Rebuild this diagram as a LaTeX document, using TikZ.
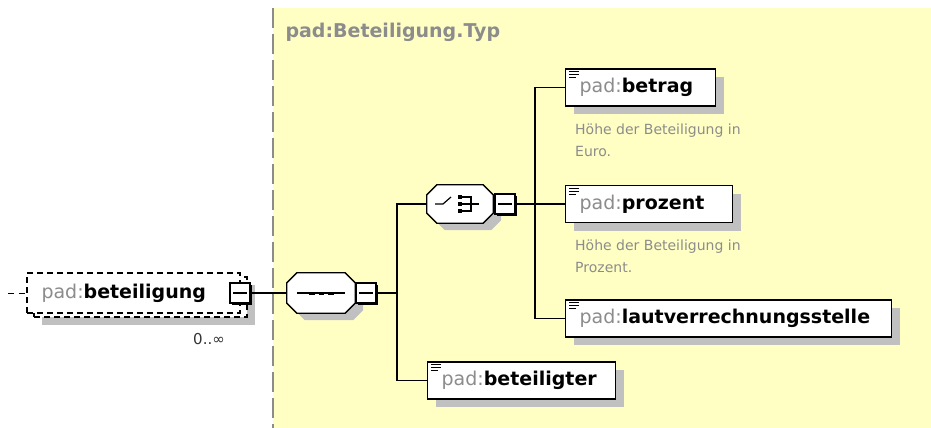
\documentclass[tikz,border=0pt]{standalone}
\usepackage{fontspec}
\setmainfont{DejaVu Sans}
\usetikzlibrary{shadows}
\definecolor{typbg}{RGB}{255,255,196}
\definecolor{pfxgray}{RGB}{140,140,140}
\definecolor{shadowgray}{RGB}{192,192,192}
\newcommand{\pfx}{\textcolor{pfxgray}{\mdseries pad:}}
% octagon outline round a named node
\newcommand{\octagon}[2][]{\path[#1] ([xshift=10pt]#2.north west) -- ([xshift=-10pt]#2.north east)
  -- ([yshift=-10pt]#2.north east) -- ([yshift=10pt]#2.south east) -- ([xshift=-10pt]#2.south east)
  -- ([xshift=10pt]#2.south west) -- ([yshift=10pt]#2.south west) -- ([yshift=-10pt]#2.north west) -- cycle;}
\tikzset{
  elem/.style={draw, fill=white, line width=1.3pt, anchor=west, minimum height=37pt,
    inner xsep=14pt, text width=#1, font=\bfseries\fontsize{19}{19}\selectfont,
    general shadow={fill=shadowgray, shadow xshift=8pt, shadow yshift=-8pt}},
  optelem/.style={draw, dash pattern=on 6pt off 4pt, fill=white, line width=1.2pt,
    minimum width=213pt, minimum height=40pt, inner sep=0pt},
  grp/.style={inner sep=0pt, minimum width=#1, minimum height=40pt},
  grpline/.style={draw, fill=white, line width=1.3pt},
  grpshadow/.style={fill=shadowgray, transform canvas={xshift=8pt,yshift=-7pt}},
  minus/.style={draw, fill=white, line width=1.3pt, minimum size=20pt, inner sep=0pt,
    general shadow={fill=black, shadow xshift=2pt, shadow yshift=-2pt},
    path picture={\draw[line width=1.3pt] ([xshift=-7pt]path picture bounding box.center)
      -- ([xshift=7pt]path picture bounding box.center);}},
  desc/.style={anchor=north west, align=left, text=pfxgray, font=\fontsize{14}{22}\selectfont, inner sep=0pt},
  conn/.style={line width=1.3pt},
  icon/.style={line width=1.2pt}
}

\begin{document}
\begin{tikzpicture}[x=1pt,y=-1pt]
  \useasboundingbox (0,0) rectangle (931,428);
  \fill[typbg] (273,8) rectangle (931,428);
  \draw[pfxgray, line width=1.5pt, dash pattern=on 20pt off 6pt] (273,8) -- (273,428);
  \node[anchor=west, text=pfxgray, font=\bfseries\fontsize{19}{19}\selectfont] (title) at (282,32) {pad:Beteiligung.Typ};

  % optional repeated element
  \node[optelem, general shadow={fill=shadowgray, shadow xshift=8pt, shadow yshift=-8pt}] (bet2) at (140.5,297) {};
  \node[optelem, font=\bfseries\fontsize{19}{19}\selectfont, text width=184pt] (bet) at (133.5,293) {\pfx beteiligung};
  \node[minus] (betm) at (240,293) {};
  \node[text=black!80, font=\fontsize{15}{15}\selectfont] (occ) at (209,339) {0..∞};
  \coordinate (src) at (8,293);
  \draw[conn, line width=1pt, dash pattern=on 6pt off 5pt] (src) -- (bet.west);

  % sequence
  \node[grp=68pt] (seq) at (321,293) {};
  \octagon[grpshadow]{seq}
  \octagon[grpline]{seq}
  \node[minus] (seqm) at (366,293) {};
  \draw[conn] ([xshift=10pt]seq.west) -- ([xshift=-10pt]seq.east);
  \foreach \d in {-12,-2.5,7} \draw[line width=3pt] ([xshift=\d pt]seq.center) -- ++(5.5pt,0pt);
  \draw[conn] (betm.east) -- (seq.west);
  \coordinate (j1) at (397,293);
  \draw[conn] (seqm.east) -- (j1);

  % choice
  \node[grp=66pt, minimum height=38pt] (cho) at (460,204) {};
  \octagon[grpshadow]{cho}
  \octagon[grpline]{cho}
  \node[minus] (chom) at (505,204) {};
  \draw[icon] ([xshift=-25pt]cho.center) -- ([xshift=-17pt]cho.center) -- ([xshift=-9pt,yshift=7pt]cho.center);
  \foreach \d in {-7,0,7} \fill ([xshift=-2pt,yshift=\d pt+2pt]cho.center) rectangle ++(4pt,-4pt);
  \draw[icon] ([xshift=2pt,yshift=7pt]cho.center) -- ([xshift=11pt,yshift=7pt]cho.center)
    -- ([xshift=11pt,yshift=-7pt]cho.center) -- ([xshift=2pt,yshift=-7pt]cho.center);
  \draw[icon] ([xshift=2pt]cho.center) -- ([xshift=19pt]cho.center);
  \coordinate (j2) at (535,204);
  \draw[conn] (chom.east) -- (j2);

  % elements
  \node[elem=122pt] (betrag) at (565,87.5) {\pfx betrag};
  \node[elem=139pt] (proz) at (565,204) {\pfx prozent};
  \node[elem=298pt] (laut) at (565,318.5) {\pfx lautverrechnungsstelle};
  \node[elem=160pt] (bgt) at (427,380.5) {\pfx beteiligter};
  \foreach \n in {betrag,proz,laut,bgt} {
    \draw[icon] ([shift={(4pt,-3.5pt)}]\n.north west) -- ++(10pt,0pt);
    \draw[icon] ([shift={(4pt,-6.5pt)}]\n.north west) -- ++(10pt,0pt);
    \draw[icon] ([shift={(4pt,-9.5pt)}]\n.north west) -- ++(7pt,0pt);
  }
  \node[desc] (betragtxt) at (575,124) {Höhe der Beteiligung in\\Euro.};
  \node[desc] (proztxt) at (575,240) {Höhe der Beteiligung in\\Prozent.};

  % connectors
  \draw[conn] (cho.west) -| (j1) |- (bgt.west);
  \draw[conn] (betrag.west) -| (j2) |- (laut.west);
  \draw[conn] (j2) -- (proz.west);
\end{tikzpicture}
\end{document}
